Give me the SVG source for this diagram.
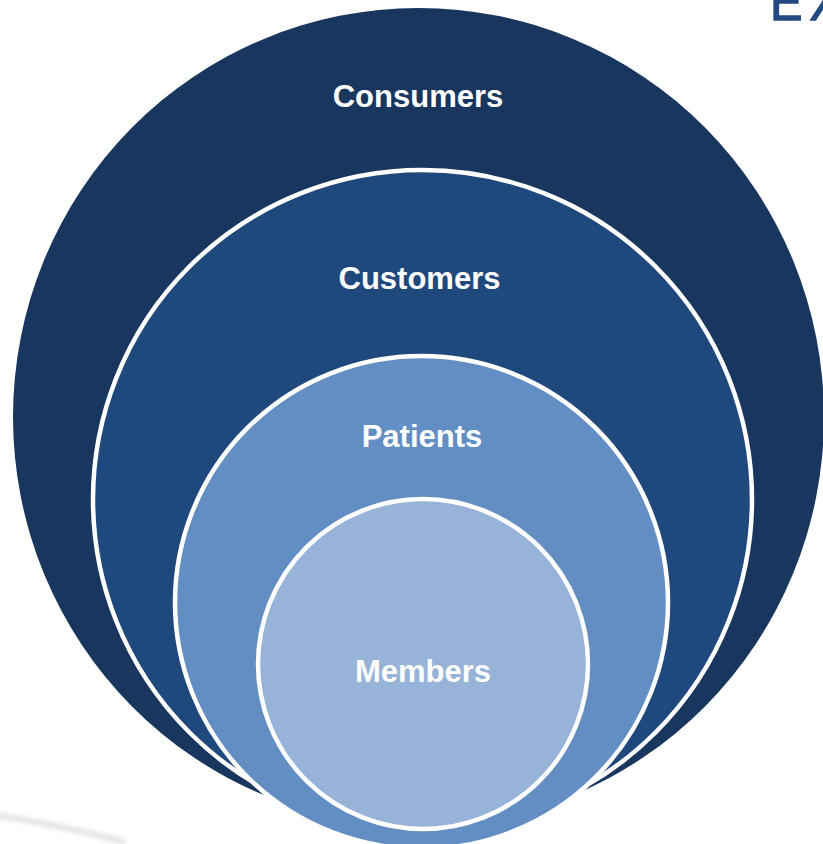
<svg xmlns="http://www.w3.org/2000/svg" width="823" height="844" viewBox="0 0 823 844">
  <defs>
    <style>
      .ring { stroke: #ffffff; stroke-width: 4.5; }
      .label { font-family: "Liberation Sans", Arial, sans-serif; font-weight: bold; font-size: 31px; fill: #ffffff; text-anchor: middle; }
      .title { font-family: "Liberation Sans", Arial, sans-serif; font-size: 54px; fill: #224A82; stroke: #224A82; stroke-width: 1.4px; letter-spacing: 8px; }
    </style>
    <filter id="soft" x="-20%" y="-50%" width="140%" height="200%">
      <feGaussianBlur stdDeviation="2"/>
    </filter>
  </defs>
  <rect width="823" height="844" fill="#ffffff"/>

  <!-- faint background swoosh -->
  <path d="M -5 815 Q 60 825 125 842" fill="none" stroke="#e4e4e4" stroke-width="6" filter="url(#soft)"/>

  <!-- heading, mostly above the canvas -->
  <text class="title" transform="translate(770,20) scale(0.9,1)" x="0" y="0">EX</text>

  <g id="consumers">
    <ellipse cx="418.5" cy="417" rx="405.5" ry="409" fill="#18365E"/>
    <text class="label" x="418" y="107">Consumers</text>
  </g>

  <g id="customers">
    <circle class="ring" cx="422.5" cy="499.5" r="329.5" fill="#1F487D"/>
    <text class="label" x="419.5" y="289">Customers</text>
  </g>

  <g id="patients">
    <circle class="ring" cx="421.5" cy="602.5" r="246.5" fill="#638EC3"/>
    <text class="label" x="422" y="447">Patients</text>
  </g>

  <g id="members">
    <circle class="ring" cx="423" cy="664" r="165" fill="#97B3D7"/>
    <text class="label" x="423" y="682">Members</text>
  </g>

  <g id="connectors"></g>
</svg>
